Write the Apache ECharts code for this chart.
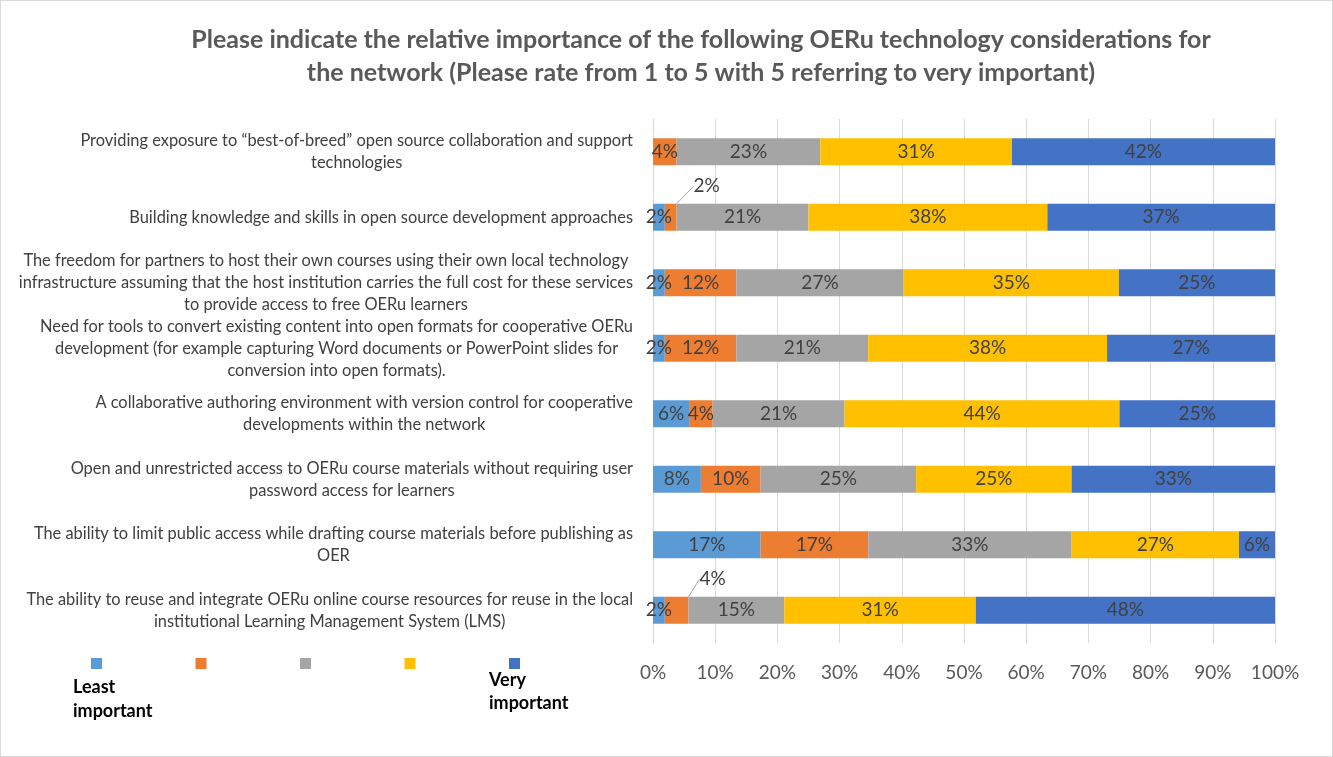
<!DOCTYPE html>
<html style="height: 100%">
<head>
    <meta charset="UTF-8">
    <title>OERu technology considerations</title>
    <script type="text/javascript" src="https://cdn.jsdelivr.net/npm/echarts@6/dist/echarts.min.js"></script>
</head>
<body style="height: 100%; margin: 0; background: #fff">
    <div id="container" style="width: 1333px; height: 757px; box-sizing: border-box; border: 1px solid #d9d9d9"></div>
<script>
    // categories, top to bottom
    var considerations = [
        'Providing exposure to \u201cbest-of-breed\u201d open source collaboration and support\ntechnologies',
        'Building knowledge and skills in open source development approaches',
        'The freedom for partners to host their own courses using their own local technology\ninfrastructure assuming that the host institution carries the full cost for these services\nto provide access to free OERu learners',
        'Need for tools to convert existing content into open formats for cooperative OERu\ndevelopment (for example capturing Word documents or PowerPoint slides for\nconversion into open formats).',
        'A collaborative authoring environment with version control for cooperative\ndevelopments within the network',
        'Open and unrestricted access to OERu course materials without requiring user\npassword access for learners',
        'The ability to limit public access while drafting course materials before publishing as\nOER',
        'The ability to reuse and integrate OERu online course resources for reuse in the local\ninstitutional Learning Management System (LMS)'
    ];

    // share of responses (%) for rating 1..5
    var rating1 = [0, 1.9, 1.9, 1.9, 5.8, 7.7, 17.3, 1.9];
    var rating2 = [3.8, 1.9, 11.5, 11.5, 3.8, 9.6, 17.3, 3.8];
    var rating3 = [23.1, 21.2, 26.9, 21.2, 21.2, 25.0, 32.7, 15.4];
    var rating4 = [30.8, 38.4, 34.6, 38.4, 44.2, 25.0, 26.9, 30.8];
    var rating5 = [42.3, 36.6, 25.1, 27.0, 25.0, 32.7, 5.8, 48.1];

    var ratingNames = ['1', '2', '3', '4', '5'];
    var ratingColors = ['#5b9bd5', '#ed7d31', '#a5a5a5', '#ffc000', '#4472c4'];
    var xTicks = [0, 10, 20, 30, 40, 50, 60, 70, 80, 90, 100];

    var titleText = 'Please indicate the relative importance of the following OERu technology considerations for\nthe network (Please rate from 1 to 5 with 5 referring to very important)';

    var font = 'Lato, "Open Sans", sans-serif';

    var dom = document.getElementById('container');
    var myChart = echarts.init(dom);

    function makeSeries(i, values) {
        var s = {
            name: ratingNames[i],
            type: 'bar',
            stack: 'total',
            barWidth: 27,
            itemStyle: { color: ratingColors[i] },
            label: {
                show: true,
                position: 'inside',
                color: '#404040',
                fontFamily: font,
                fontSize: 19,
                formatter: function (p) {
                    return p.value > 0 ? Math.round(p.value) + '%' : '';
                }
            },
            data: values
        };
        if (i === 1) {
            // two small labels are pulled out with a leader line
            s.labelLayout = function (p) {
                if (p.dataIndex === 1 || p.dataIndex === 7) {
                    return { dx: 36, dy: -31 };
                }
                return {};
            };
            s.labelLine = { show: true, lineStyle: { color: '#a6a6a6', width: 1 } };
        }
        return s;
    }

    var option = {
        animation: false,
        textStyle: { fontFamily: font },
        title: {
            text: titleText,
            left: 700,
            top: 22,
            padding: 0,
            textAlign: 'center',
            textStyle: {
                fontFamily: font,
                fontSize: 25,
                fontWeight: 'bold',
                color: '#595959',
                lineHeight: 33
            }
        },
        legend: {
            left: 85,
            top: 652,
            itemWidth: 11,
            itemHeight: 11,
            itemGap: 93.5,
            icon: 'rect',
            formatter: function () { return ''; },
            data: ratingNames
        },
        graphic: [
            {
                type: 'text', left: 72, top: 674,
                style: { text: 'Least\nimportant', font: 'bold 18px ' + font, fill: '#000', lineHeight: 24 }
            },
            {
                type: 'text', left: 488, top: 668,
                style: { text: 'Very\nimportant', font: 'bold 18px ' + font, fill: '#000', lineHeight: 23 }
            }
        ],
        grid: {
            left: 652,
            right: 57,
            top: 118,
            bottom: 113
        },
        xAxis: {
            type: 'value',
            min: 0,
            max: 100,
            interval: 10,
            axisLine: { show: false },
            axisTick: { show: false },
            splitLine: { lineStyle: { color: '#d9d9d9' } },
            axisLabel: {
                color: '#595959',
                fontFamily: font,
                fontSize: 19,
                margin: 20,
                formatter: function (v) { return xTicks.indexOf(v) >= 0 ? v + '%' : ''; }
            }
        },
        yAxis: {
            type: 'category',
            inverse: true,
            data: considerations,
            axisLine: { show: false },
            axisTick: { show: false },
            axisLabel: {
                margin: 20,
                color: '#404040',
                fontFamily: font,
                fontSize: 16.4,
                lineHeight: 22,
                formatter: function (v) {
                    return v.split('\n').map(function (l) { return '{c|' + l + '}'; }).join('\n');
                },
                rich: {
                    c: { align: 'center', color: '#404040', fontFamily: font, fontSize: 16.4, lineHeight: 22 }
                }
            }
        },
        series: [
            makeSeries(0, rating1),
            makeSeries(1, rating2),
            makeSeries(2, rating3),
            makeSeries(3, rating4),
            makeSeries(4, rating5)
        ]
    };

    myChart.setOption(option);
</script>
</body>
</html>
